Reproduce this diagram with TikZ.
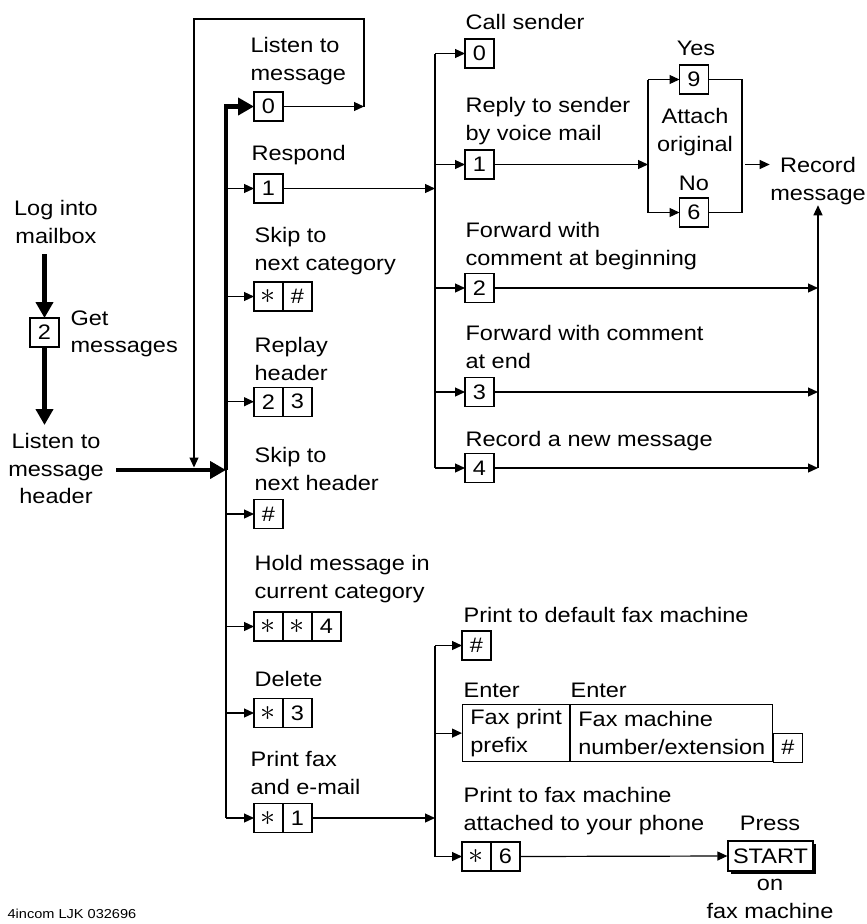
\documentclass[tikz,border=0pt]{standalone}
\usepackage{fontspec}
\setmainfont{Liberation Sans}[FakeStretch=1.12]
\usetikzlibrary{arrows.meta,positioning,shadows}

\newcommand{\keystar}{\scalebox{1.45}{$\ast$}}

\begin{document}
\begin{tikzpicture}[x=1pt,y=-1pt,
    font=\fontsize{21}{27.5}\selectfont,
    line width=1.2pt,
    key/.style={draw, line width=1.2pt, minimum width=29pt, minimum height=29pt,
      inner sep=0pt, outer sep=0pt},
    lbl/.style={anchor=north west, inner sep=0pt, align=left},
    clbl/.style={anchor=north, inner sep=0pt, align=center},
    arr/.style={-{Triangle[length=10pt,width=9pt]}},
    bigarr/.style={line width=4.5pt, -{Triangle[length=16pt,width=17pt]}}]

    \useasboundingbox (0,0) rectangle (867,924);

    % Log into mailbox and get messages
    \node[clbl] (login) at (56,200) {Log into\\mailbox};
    \node[key] (getkey) at (44.5,332.5) {2};
    \node[lbl] (gettxt) at (70,310) {Get\\messages};
    \node[clbl] (header) at (56,433) {Listen to\\message\\header};

    \draw[bigarr] ([yshift=-10pt]getkey.north |- login.south) -- (getkey.north);
    \draw[bigarr] (getkey.south) -- ([yshift=8pt]header.north -| getkey);

    % Main menu: labels
    \node[lbl] (listentxt) at (250,37) {Listen to\\message};
    \node[lbl] (resptxt) at (251,145) {Respond};
    \node[lbl] (skipctxt) at (254,227) {Skip to\\next category};
    \node[lbl] (replaytxt) at (254,337) {Replay\\header};
    \node[lbl] (skiphtxt) at (254,447) {Skip to\\next header};
    \node[lbl] (holdtxt) at (254,555) {Hold message in\\current category};
    \node[lbl] (deltxt) at (254,671) {Delete};
    \node[lbl] (printtxt) at (250,751) {Print fax\\and e-mail};

    % Main menu: keys
    \node[key] (lk0) at (268.5,106.5) {0};
    \node[key] (lk1) at (268.5,188.5) {1};
    \node[key] (lkcA) at (268.5,296.5) {\keystar};
    \node[key, right=0pt of lkcA] (lkcB) {\#};
    \node[key] (lkrA) at (268.5,401.7) {2};
    \node[key, right=0pt of lkrA] (lkrB) {3};
    \node[key] (lkh) at (268.5,514) {\#};
    \node[key] (lkdA) at (268.5,626.5) {\keystar};
    \node[key, right=0pt of lkdA] (lkdB) {\keystar};
    \node[key, right=0pt of lkdB] (lkdC) {4};
    \node[key] (lkxA) at (268.5,713) {\keystar};
    \node[key, right=0pt of lkxA] (lkxB) {3};
    \node[key] (lkpA) at (268.5,818) {\keystar};
    \node[key, right=0pt of lkpA] (lkpB) {1};

    % Main bus
    \coordinate (hub) at (226,470);
    \draw[bigarr] ([xshift=12pt]header.east |- hub) -- (hub);
    \draw[bigarr] (hub) -- (hub |- lk0) -- (lk0.west);
    \draw (hub) -- (hub |- lkpA);
    \foreach \k in {lk1,lkcA,lkrA,lkh,lkdA,lkxA,lkpA}
      \draw[arr] (hub |- \k.west) -- (\k.west);

    % Loop back after listening
    \coordinate (loopTR) at (364,19);
    \coordinate (loopTL) at (194,19);
    \draw[arr] (lk0.east) -- (loopTR |- lk0);
    \draw[arr] (loopTR |- lk0) -- (loopTR) -- (loopTL) -- ([yshift=2.5pt]loopTL |- hub);

    % Respond submenu
    \node[lbl] (calltxt) at (465,14) {Call sender};
    \node[lbl] (replytxt) at (465,97) {Reply to sender\\by voice mail};
    \node[lbl] (fwdbtxt) at (465,222) {Forward with\\comment at beginning};
    \node[lbl] (fwdetxt) at (465,325) {Forward with comment\\at end};
    \node[lbl] (newtxt) at (465,431) {Record a new message};

    \node[key] (rk0) at (479.5,53.5) {0};
    \node[key] (rk1) at (479.5,164.5) {1};
    \node[key] (rk2) at (479.5,288) {2};
    \node[key] (rk3) at (479.5,392) {3};
    \node[key] (rk4) at (479.5,468) {4};

    \coordinate (hubB) at (435,188.5);
    \draw[arr] (lk1.east) -- (hubB);
    \draw (hubB |- rk0) -- (hubB |- rk4);
    \foreach \k in {rk0,rk1,rk2,rk3,rk4}
      \draw[arr] (hubB |- \k.west) -- (\k.west);

    % Attach original?
    \node[key] (ak9) at (694,79.5) {9};
    \node[key] (ak6) at (694,212.5) {6};
    \node[clbl] (yestxt) at (696,40) {Yes};
    \node[clbl] (attxt) at (695,108) {Attach\\original};
    \node[clbl] (notxt) at (694,175) {No};
    \coordinate (attL) at (648,164.5);
    \coordinate (attR) at (742,164.5);
    \draw[arr] (rk1.east) -- (attL);
    \draw (attL |- ak9) -- (attL |- ak6);
    \draw[arr] (attL |- ak9) -- (ak9.west);
    \draw[arr] (attL |- ak6) -- (ak6.west);
    \draw (ak9.east) -- (attR |- ak9) -- (attR |- ak6) -- (ak6.east);

    % Record message
    \node[clbl] (record) at (818,157) {Record\\message};
    \coordinate (recbus) at (818,468);
    \draw[arr] ([xshift=3pt]attR) -- (record.west |- attR);
    \draw[arr] (recbus) -- (record.south);
    \foreach \k in {rk2,rk3,rk4}
      \draw[arr] (\k.east) -- (recbus |- \k);

    % Print fax submenu
    \node[lbl] (deftxt) at (463,607) {Print to default fax machine};
    \node[key] (fk0) at (476.5,645.5) {\#};
    \node[lbl] (entatxt) at (463,682) {Enter};
    \node[lbl] (entbtxt) at (570,682) {Enter};
    \node[draw, anchor=north west, minimum width=107pt, minimum height=57pt,
      inner sep=0pt, align=left] (fpre) at (462,704) {Fax print\\prefix};
    \node[draw, right=0pt of fpre, minimum width=202pt, minimum height=57pt,
      inner sep=0pt, align=left] (fnum) {Fax machine\\number/extension};
    \node[key, anchor=south west] (fhash) at (fnum.south east) {\#};
    \node[lbl] (phonetxt) at (463,787) {Print to fax machine\\attached to your phone};
    \node[key] (fk6A) at (476.5,856.5) {\keystar};
    \node[key, right=0pt of fk6A] (fk6B) {6};

    \node[draw, fill=white, minimum width=85pt, minimum height=30pt, inner sep=0pt,
      drop shadow={shadow xshift=2.5pt, shadow yshift=-2.5pt, fill=black, opacity=1}]
      (start) at (770.5,856) {START};
    \node[clbl] (presstxt) at (770,815) {Press};
    \node[clbl] (ontxt) at (770,879) {on\\fax machine};

    \coordinate (hubC) at (435,818);
    \draw[arr] (lkpB.east) -- (hubC);
    \draw (hubC |- fk0) -- (hubC |- fk6A);
    \foreach \k in {fk0,fpre,fk6A}
      \draw[arr] (hubC |- \k.west) -- (\k.west);
    \draw[arr] (fk6B.east) -- (start.west);

    % Figure id
    \node[lbl, font=\fontsize{13}{15}\selectfont] (figid) at (7,908) {4incom LJK 032696};

\end{tikzpicture}
\end{document}
